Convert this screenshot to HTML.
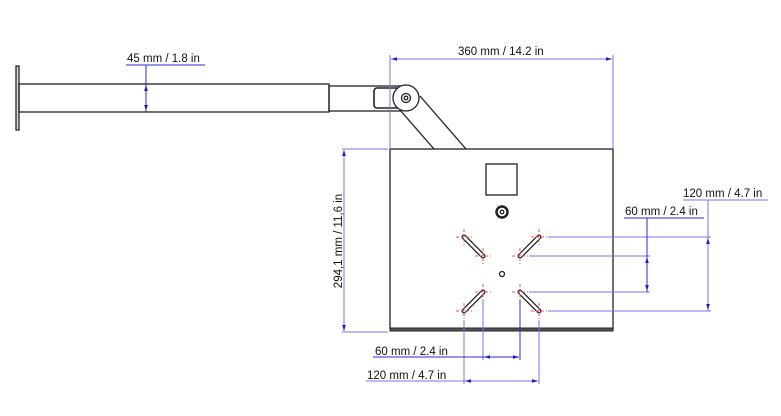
<!DOCTYPE html>
<html><head><meta charset="utf-8"><style>
html,body{margin:0;padding:0;background:#fff;width:781px;height:416px;overflow:hidden}
svg{display:block}
text{font-family:"Liberation Sans",sans-serif;font-size:11.5px;fill:#111}
</style></head><body>
<svg width="781" height="416" viewBox="0 0 781 416" xmlns="http://www.w3.org/2000/svg">
<defs>
<marker id="a" viewBox="0 0 10 6" refX="10" refY="3" markerWidth="6" markerHeight="4" orient="auto-start-reverse"><path d="M0,0L10,3L0,6z" fill="#1a1acc"/></marker>
</defs>
<g stroke="#222" fill="none" stroke-width="1.3">
<rect x="16" y="66" width="3" height="64" fill="#ddd"/>
<rect x="19" y="84" width="310" height="28"/>
<rect x="329" y="86" width="72" height="25"/>
<rect x="374" y="88" width="26" height="20" rx="3" stroke-width="1.6"/>
<line x1="400" y1="110" x2="434" y2="149"/>
<line x1="420" y1="96" x2="466" y2="149"/>
<circle cx="406" cy="98" r="13" fill="#fff"/>
<circle cx="406" cy="98" r="4.5"/>
<circle cx="406" cy="98" r="1.8"/>
<rect x="390" y="149" width="223" height="180"/>
<rect x="390" y="328" width="223" height="3" fill="#555" stroke-width="1"/>
<rect x="486" y="164" width="31" height="31"/>
<circle cx="502" cy="212" r="5.5" stroke-width="2.5"/>
<circle cx="502" cy="212" r="1.8"/>
<circle cx="502" cy="274" r="2.5"/>
</g>
<g stroke="#222" stroke-width="5" stroke-linecap="round">
<line x1="464" y1="237" x2="483" y2="256"/><line x1="539" y1="237" x2="520" y2="256"/>
<line x1="464" y1="311" x2="483" y2="292"/><line x1="539" y1="311" x2="520" y2="292"/>
</g>
<g stroke="#fff" stroke-width="2.5" stroke-linecap="round">
<line x1="464" y1="237" x2="483" y2="256"/><line x1="539" y1="237" x2="520" y2="256"/>
<line x1="464" y1="311" x2="483" y2="292"/><line x1="539" y1="311" x2="520" y2="292"/>
</g>
<g stroke="#e55" stroke-width="1" stroke-dasharray="3,2">
<line x1="456" y1="237" x2="472" y2="237"/><line x1="464" y1="229" x2="464" y2="245"/>
<line x1="531" y1="237" x2="547" y2="237"/><line x1="539" y1="229" x2="539" y2="245"/>
<line x1="475" y1="256" x2="491" y2="256"/><line x1="483" y1="248" x2="483" y2="264"/>
<line x1="512" y1="256" x2="528" y2="256"/><line x1="520" y1="248" x2="520" y2="264"/>
<line x1="475" y1="292" x2="491" y2="292"/><line x1="483" y1="284" x2="483" y2="300"/>
<line x1="512" y1="292" x2="528" y2="292"/><line x1="520" y1="284" x2="520" y2="300"/>
<line x1="456" y1="311" x2="472" y2="311"/><line x1="464" y1="303" x2="464" y2="319"/>
<line x1="531" y1="311" x2="547" y2="311"/><line x1="539" y1="303" x2="539" y2="319"/>
</g>
<g stroke="#7777e8" stroke-width="1" fill="none">
<line x1="390" y1="55" x2="390" y2="149"/><line x1="613" y1="55" x2="613" y2="149"/>
<line x1="342" y1="149" x2="388" y2="149"/><line x1="342" y1="332" x2="388" y2="332"/>
<line x1="548" y1="237" x2="711" y2="237"/><line x1="548" y1="311" x2="711" y2="311"/>
<line x1="529" y1="256" x2="650" y2="256"/><line x1="529" y1="292" x2="650" y2="292"/>
<line x1="464" y1="320" x2="464" y2="384"/><line x1="539" y1="320" x2="539" y2="384"/>
<line x1="483" y1="300" x2="483" y2="360"/>
<line x1="683" y1="200" x2="768" y2="200"/>
<line x1="366" y1="381" x2="538" y2="381"/>
<line x1="344" y1="150" x2="344" y2="331" marker-start="url(#a)" marker-end="url(#a)"/>
<line x1="391" y1="59" x2="612" y2="59" marker-start="url(#a)" marker-end="url(#a)"/>
<line x1="708" y1="200" x2="708" y2="311"/>
<line x1="708" y1="238" x2="708" y2="310" marker-start="url(#a)" marker-end="url(#a)"/>
<line x1="465" y1="381" x2="538" y2="381" marker-start="url(#a)" marker-end="url(#a)"/>
</g>
<g stroke="#2a2ad8" stroke-width="1" fill="none">
<line x1="126" y1="65" x2="205" y2="65"/>
<line x1="146" y1="65" x2="146" y2="112"/>
<line x1="146" y1="85" x2="146" y2="111" marker-start="url(#a)" marker-end="url(#a)"/>
<line x1="647" y1="218" x2="647" y2="292"/>
<line x1="647" y1="257" x2="647" y2="291" marker-start="url(#a)" marker-end="url(#a)"/>
<line x1="624" y1="218" x2="704" y2="218"/>
<line x1="520" y1="300" x2="520" y2="360"/>
<line x1="373" y1="357" x2="519" y2="357"/>
<line x1="484" y1="357" x2="519" y2="357" marker-start="url(#a)" marker-end="url(#a)"/>
</g>
<text x="127" y="62">45 mm / 1.8 in</text>
<text x="458" y="55">360 mm / 14.2 in</text>
<text x="683" y="197">120 mm / 4.7 in</text>
<text x="625" y="215">60 mm / 2.4 in</text>
<text x="375" y="355">60 mm / 2.4 in</text>
<text x="367" y="379">120 mm / 4.7 in</text>
<text transform="translate(342,241) rotate(-90)" text-anchor="middle">294,1 mm / 11,6 in</text>
</svg>
</body></html>
